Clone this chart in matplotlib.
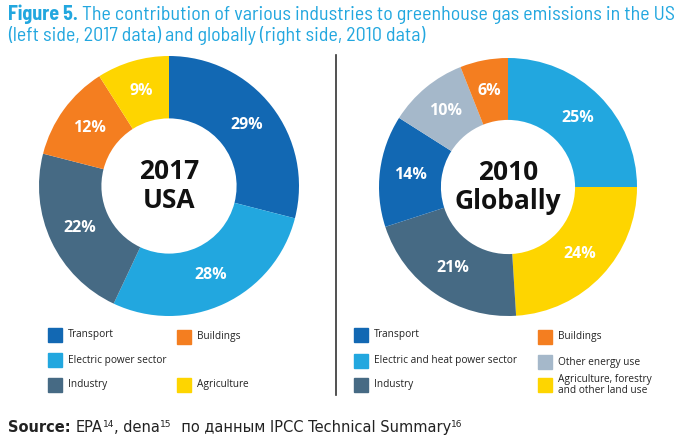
import matplotlib
matplotlib.use("Agg")
import matplotlib.pyplot as plt
from matplotlib.patches import Rectangle
from matplotlib import font_manager
from matplotlib.font_manager import FontProperties
import numpy as np

# ---- data ----
usa_labels = ["Transport", "Electric power sector", "Industry", "Buildings", "Agriculture"]
usa_values = [29, 28, 22, 12, 9]
glob_labels = ["Electric and heat power sector", "Agriculture, forestry\nand other land use",
               "Industry", "Transport", "Other energy use", "Buildings"]
glob_values = [25, 24, 21, 14, 10, 6]

C = {"Transport": "#1268b3", "Electric": "#22a7df", "Industry": "#466a84",
     "Buildings": "#f47e20", "Agriculture": "#fed500", "Other": "#a5b8ca"}
usa_colors = [C["Transport"], C["Electric"], C["Industry"], C["Buildings"], C["Agriculture"]]
glob_colors = [C["Electric"], C["Agriculture"], C["Industry"], C["Transport"], C["Other"], C["Buildings"]]

W, H = 684, 443
fig = plt.figure(figsize=(W / 100, H / 100), dpi=100)
names = {f.name for f in font_manager.fontManager.ttflist}
TITLE_FONT = next((n for n in ["Barlow Semi Condensed", "Asap Condensed", "Archivo Narrow"] if n in names),
                  "Liberation Sans")

WMAP = {"normal": 400, "regular": 400, "bold": 700, "semibold": 600, "medium": 500, "light": 300}
def _w(v):
    return v if isinstance(v, int) else WMAP.get(str(v).lower(), 400)
def pick(name, weight):
    bad = ("cond", "narrow", "wdth", "compressed")
    cands = [f for f in font_manager.fontManager.ttflist
             if f.name == name and f.style == "normal"
             and str(f.stretch) in ("normal", "500")
             and not any(b in f.fname.lower() for b in bad)]
    if not cands:
        return None
    best = min(cands, key=lambda f: abs(_w(f.weight) - weight))
    return FontProperties(fname=best.fname)

OS_REG = pick("Open Sans", 400) or pick("Noto Sans", 400) or FontProperties(family="DejaVu Sans")
OS_BOLD = pick("Open Sans", 700) or pick("Noto Sans", 700) or FontProperties(family="DejaVu Sans", weight="bold")

def px_axes(cx, cy, r):
    return fig.add_axes([(cx - r) / W, 1 - (cy + r) / H, 2 * r / W, 2 * r / H])

def donut(cx, cy, r, values, colors, center_text):
    ax = px_axes(cx, cy, r)
    ax.pie(values, colors=colors, startangle=90, counterclock=False,
           radius=1.0, wedgeprops=dict(width=0.48, edgecolor="none"))
    total = sum(values)
    ang = 90.0
    for v in values:
        mid = ang - v / total * 360 / 2
        ang -= v / total * 360
        x = 0.76 * np.cos(np.radians(mid))
        y = 0.76 * np.sin(np.radians(mid))
        ax.text(x, y, f"{v}%", ha="center", va="center", color="white",
                fontproperties=OS_BOLD, fontsize=11.5)
    ax.text(0, 0.0, center_text, ha="center", va="center", color="#111111",
            fontproperties=OS_BOLD, fontsize=19, linespacing=1.1)
    ax.set_xlim(-1, 1)
    ax.set_ylim(-1, 1)
    ax.set_aspect("equal")
    ax.axis("off")

donut(169, 186, 130, usa_values, usa_colors, "2017\nUSA")
donut(508, 187, 129, glob_values, glob_colors, "2010\nGlobally")

# divider
fig.add_artist(plt.Line2D([336 / W, 336 / W], [1 - 55 / H, 1 - 395 / H], color="#333333", lw=1.2))

# legends
def legend_item(x, y, color, label):
    fig.add_artist(Rectangle((x / W, 1 - (y + 7) / H), 14 / W, 14 / H, color=color,
                             transform=fig.transFigure))
    fig.text((x + 20) / W, 1 - y / H, label, ha="left", va="center", fontsize=7.3,
             color="#222222", linespacing=1.1, fontproperties=OS_REG)

legend_item(48, 335, C["Transport"], "Transport")
legend_item(48, 360, C["Electric"], "Electric power sector")
legend_item(48, 385, C["Industry"], "Industry")
legend_item(177, 337, C["Buildings"], "Buildings")
legend_item(177, 385, C["Agriculture"], "Agriculture")

legend_item(354, 335, C["Transport"], "Transport")
legend_item(354, 361, C["Electric"], "Electric and heat power sector")
legend_item(354, 385, C["Industry"], "Industry")
legend_item(538, 337, C["Buildings"], "Buildings")
legend_item(538, 362, C["Other"], "Other energy use")
legend_item(538, 385, C["Agriculture"], "Agriculture, forestry\nand other land use")

# title and source: sequential pieces
fig.canvas.draw()
renderer = fig.canvas.get_renderer()

def seq(x, y, pieces, draw=True):
    for s, kw, dy in pieces:
        t = fig.text(x / W, 1 - (y - dy) / H, s, ha="left", va="baseline", **kw)
        bb = t.get_window_extent(renderer=renderer)
        x += bb.width
        if not draw:
            t.remove()
    return x

blue = "#22a7df"
def title_pieces(fs):
    return [("Figure 5.", dict(fontsize=fs, fontweight="bold", color=blue, family=TITLE_FONT), 0),
            (" The contribution of various industries to greenhouse gas emissions in the US",
             dict(fontsize=fs, color=blue, family=TITLE_FONT), 0)]
w14 = seq(8, 20, title_pieces(14), draw=False) - 8
fs = min(15.5, 14 * 665 / w14)
seq(8, 20, title_pieces(fs))
seq(8, 41, [("(left side, 2017 data) and globally (right side, 2010 data)",
             dict(fontsize=fs, color=blue, family=TITLE_FONT), 0)])

src = dict(fontsize=10.5, color="#222222", family="DejaVu Sans")
sup = dict(fontsize=6.5, color="#222222", family="DejaVu Sans")
seq(8, 432, [("Source: ", dict(fontsize=10.5, color="#222222", family="DejaVu Sans", fontweight="bold"), 0),
             ("EPA", src, 0), ("14", sup, 5), (", dena", src, 0), ("15", sup, 5),
             ("  по данным IPCC Technical Summary", src, 0), ("16", sup, 5)])

fig.savefig("out.png", dpi=100)
